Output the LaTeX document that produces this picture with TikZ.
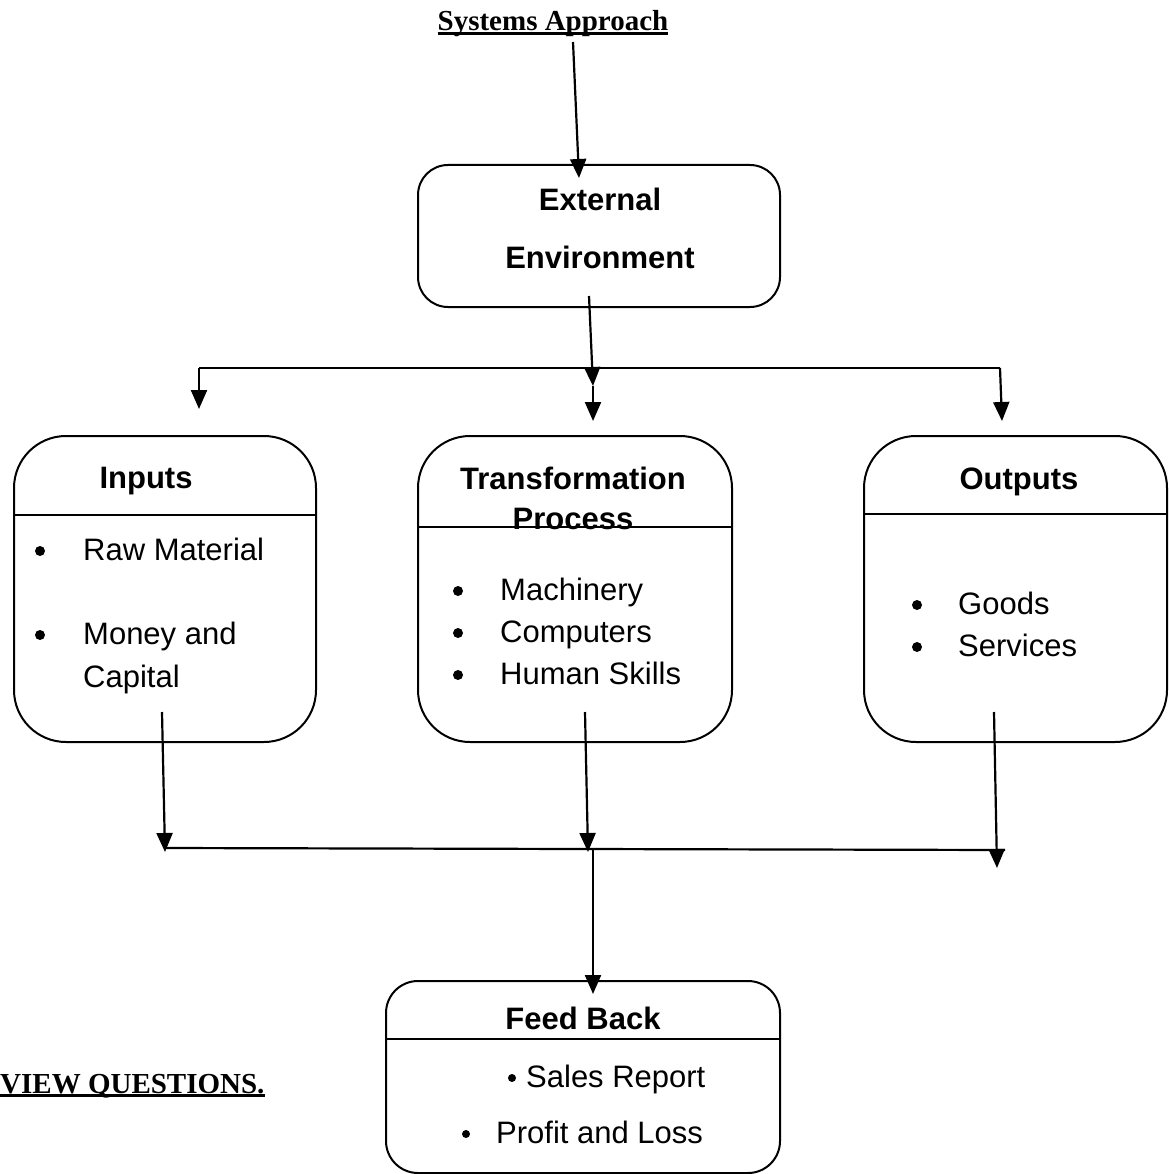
\documentclass[tikz,border=0pt]{standalone}
\usepackage{fontspec}
\setmainfont{Liberation Sans}
\newfontfamily\titlefont{Liberation Serif}
\usetikzlibrary{arrows.meta}
\newcommand{\ulbar}[1]{\setbox0\hbox{#1}\rlap{\rule[-4pt]{\wd0}{2.6pt}}\box0}
\tikzset{
  stage/.style={draw,line width=2pt,anchor=north west,inner sep=0pt},
  head/.style={font=\bfseries\fontsize{31}{37}\selectfont,anchor=base,inner sep=0pt},
  item/.style={font=\fontsize{31}{37}\selectfont,anchor=base west,inner sep=0pt},
  dot/.style={circle,fill,inner sep=0pt,minimum size=10pt},
  smalldot/.style={circle,fill,inner sep=0pt,minimum size=8pt},
  caption/.style={font=\titlefont\bfseries\fontsize{29}{34}\selectfont,inner sep=0pt},
  flow/.style={-{Triangle[length=19pt,width=16pt]},line width=2.2pt},
  link/.style={line width=2.2pt},
}
\begin{document}
\begin{tikzpicture}[x=1pt,y=-1pt]
\useasboundingbox (0,0) rectangle (1168,1174);
% \draw[help lines,step=100] (0,0) grid (1168,1174);
\node (ttl) [caption,anchor=base] at (553,31) {\ulbar{Systems Approach}};
\node (rq) [caption,anchor=base west] at (0,1093) {\ulbar{VIEW QUESTIONS.}};
%
\node (ext) [stage,rounded corners=30pt,minimum width=362pt,minimum height=142pt] at (417,164) {};
\node (ext1) [head] at (600,211) {External};
\node (ext2) [head] at (600,268) {Environment};
%
\node (inp) [stage,rounded corners=52pt,minimum width=302pt,minimum height=306pt] at (13,435) {};
\node (inph) [head] at (146,488) {Inputs};
\draw[line width=2pt] (inp.west |- 0,515) -- (inp.east |- 0,515);
\node (inpd1) [dot] at (40,551) {};
\node (inp1) [item] at (83,560) {Raw Material};
\node (inpd2) [dot] at (40,635) {};
\node (inp2) [item] at (83,644) {Money and};
\node (inp3) [item] at (83,687) {Capital};
%
\node (tp) [stage,rounded corners=52pt,minimum width=314pt,minimum height=306pt] at (417,435) {};
\node (tph1) [head] at (573,489) {Transformation};
\node (tph2) [head] at (573,529) {Process};
\draw[line width=2pt] (tp.west |- 0,527) -- (tp.east |- 0,527);
\node (tpd1) [dot] at (458,591) {};
\node (tp1) [item] at (500,600) {Machinery};
\node (tpd2) [dot] at (458,633) {};
\node (tp2) [item] at (500,642) {Computers};
\node (tpd3) [dot] at (458,675) {};
\node (tp3) [item] at (500,684) {Human Skills};
%
\node (out) [stage,rounded corners=52pt,minimum width=303pt,minimum height=306pt] at (863,435) {};
\node (outh) [head] at (1019,489) {Outputs};
\draw[line width=2pt] (out.west |- 0,514) -- (out.east |- 0,514);
\node (outd1) [dot] at (917,605) {};
\node (out1) [item] at (958,614) {Goods};
\node (outd2) [dot] at (917,647) {};
\node (out2) [item] at (958,656) {Services};
%
\node (fb) [stage,rounded corners=32pt,minimum width=394pt,minimum height=192pt] at (385,980) {};
\node (fbh) [head] at (583,1029) {Feed Back};
\draw[line width=2pt] (fb.west |- 0,1039) -- (fb.east |- 0,1039);
\node (fbd1) [smalldot] at (512,1078) {};
\node (fb1) [item] at (526,1087) {Sales Report};
\node (fbd2) [smalldot] at (466,1134) {};
\node (fb2) [item] at (496,1143) {Profit and Loss};
%
\coordinate (ttl-out) at (573,42);
\coordinate (ext-in) at (579,178);
\coordinate (ext-out) at (589,296);
\coordinate (top-l) at (199,368);
\coordinate (top-m) at (593,386);
\coordinate (top-r) at (1000,368);
\coordinate (inp-in) at (199,409);
\coordinate (tp-in) at (593,421);
\coordinate (out-in) at (1002,421);
\coordinate (inp-out) at (162,712);
\coordinate (tp-out) at (585,712);
\coordinate (out-out) at (994,712);
\coordinate (bot-l) at (165,852);
\coordinate (bot-m) at (588,852);
\coordinate (bot-r) at (997,868);
\coordinate (bar-l) at (165,848);
\coordinate (bar-r) at (1005,850);
\coordinate (fb-top) at (593,850);
\coordinate (fb-in) at (593,994);
%
\path[flow] (ttl-out) edge (ext-in);
\path[flow] (ext-out) edge (top-m);
\path[flow] (top-m) edge (tp-in);
\path[link] (top-l) edge (top-r);
\path[flow] (top-l) edge (inp-in);
\path[flow] (top-r) edge (out-in);
%
\path[flow] (inp-out) edge (bot-l);
\path[flow] (tp-out) edge (bot-m);
\path[flow] (out-out) edge (bot-r);
\path[link] (bar-l) edge (bar-r);
\path[flow] (fb-top) edge (fb-in);
\end{tikzpicture}
\end{document}
